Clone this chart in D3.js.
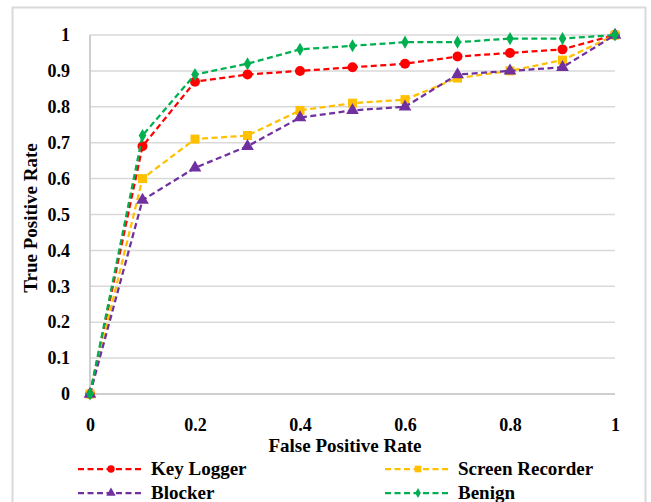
<!DOCTYPE html>
<html>
<head>
<meta charset="utf-8">
<script src="https://cdn.jsdelivr.net/npm/d3@7"></script>
<style>
  body { margin: 0; background: #fff; }
  text { font-family: "Liberation Serif", "Times New Roman", serif; font-weight: bold; fill: #000; }
</style>
</head>
<body>
<svg id="chart" width="651" height="502"></svg>
<script>
const fpr = [0, 0.1, 0.2, 0.3, 0.4, 0.5, 0.6, 0.7, 0.8, 0.9, 1];
const keyLogger = [0, 0.69, 0.87, 0.89, 0.90, 0.91, 0.92, 0.94, 0.95, 0.96, 1.0];
const screenRecorder = [0, 0.60, 0.71, 0.72, 0.79, 0.81, 0.82, 0.88, 0.90, 0.93, 1.0];
const blocker = [0, 0.54, 0.63, 0.69, 0.77, 0.79, 0.80, 0.89, 0.90, 0.91, 1.0];
const benign = [0, 0.72, 0.89, 0.92, 0.96, 0.97, 0.98, 0.98, 0.99, 0.99, 1.0];
const xTicks = [0, 0.2, 0.4, 0.6, 0.8, 1];
const yTicks = [0, 0.1, 0.2, 0.3, 0.4, 0.5, 0.6, 0.7, 0.8, 0.9, 1];

const series = [
  { name: 'Key Logger', values: keyLogger, color: '#FF0000', symbol: d3.symbolCircle, size: 78 },
  { name: 'Screen Recorder', values: screenRecorder, color: '#FFC000', symbol: d3.symbolSquare, size: 81 },
  { name: 'Blocker', values: blocker, color: '#7030A0', symbol: d3.symbolTriangle, size: 70 },
  { name: 'Benign', values: benign, color: '#00B050', symbol: d3.symbolDiamond, size: 50 },
];

const svg = d3.select('#chart');
const serif = '"Liberation Serif", "Times New Roman", serif';

// outer frame
svg.append('rect')
  .attr('x', 12.5).attr('y', 7.5)
  .attr('width', 633).attr('height', 500)
  .attr('fill', 'none')
  .attr('stroke', '#d9d9d9')
  .attr('stroke-width', 2);

const plotLeft = 90;
const plotRight = 615;
const plotTop = 35;
const plotBottom = 394;

const x = d3.scaleLinear().domain([0, 1]).range([plotLeft, plotRight]);
const y = d3.scaleLinear().domain([0, 1]).range([plotBottom, plotTop]);

// gridlines
svg.append('g')
  .selectAll('line')
  .data(yTicks.filter((t) => t > 0))
  .join('line')
  .attr('x1', plotLeft).attr('x2', plotRight)
  .attr('y1', (d) => y(d)).attr('y2', (d) => y(d))
  .attr('stroke', '#d9d9d9')
  .attr('stroke-width', 1.5);

// axis lines
svg.append('line')
  .attr('x1', plotLeft).attr('x2', plotLeft)
  .attr('y1', plotTop).attr('y2', plotBottom)
  .attr('stroke', '#bfbfbf').attr('stroke-width', 1.5);
svg.append('line')
  .attr('x1', plotLeft).attr('x2', plotRight)
  .attr('y1', plotBottom).attr('y2', plotBottom)
  .attr('stroke', '#bfbfbf').attr('stroke-width', 1.5);

const fmt = (d) => String(+d.toFixed(1));

// y tick labels
svg.append('g')
  .attr('transform', `translate(${plotLeft},0)`)
  .call(d3.axisLeft(y).tickValues(yTicks).tickSize(0).tickPadding(20).tickFormat(fmt))
  .attr('font-family', serif)
  .attr('font-size', 18)
  .attr('font-weight', 'bold')
  .call((g) => g.select('.domain').remove())
  .selectAll('text')
  .attr('fill', '#000');

// x tick labels
svg.append('g')
  .attr('transform', `translate(0,${plotBottom})`)
  .call(d3.axisBottom(x).tickValues(xTicks).tickSize(0).tickPadding(24).tickFormat(fmt))
  .attr('font-family', serif)
  .attr('font-size', 18)
  .attr('font-weight', 'bold')
  .call((g) => g.select('.domain').remove())
  .selectAll('text')
  .attr('fill', '#000');

// axis titles
svg.append('text')
  .attr('x', 345)
  .attr('y', 452)
  .attr('text-anchor', 'middle')
  .style('font-size', '19px')
  .text('False Positive Rate');

svg.append('text')
  .attr('transform', 'translate(37,218) rotate(-90)')
  .attr('text-anchor', 'middle')
  .style('font-size', '19px')
  .text('True Positive Rate');

// lines and markers
const line = d3.line()
  .x((d, i) => x(fpr[i]))
  .y((d) => y(d));

series.forEach((s) => {
  const g = svg.append('g');
  g.append('path')
    .datum(s.values)
    .attr('d', line)
    .attr('fill', 'none')
    .attr('stroke', s.color)
    .attr('stroke-width', 2.25)
    .attr('stroke-dasharray', '6,3.5');
  g.selectAll('path.marker')
    .data(s.values)
    .join('path')
    .attr('class', 'marker')
    .attr('transform', (d, i) => `translate(${x(fpr[i])},${y(d)})`)
    .attr('d', d3.symbol().type(s.symbol).size(s.size))
    .attr('fill', s.color);
});

// legend
const legendPos = [
  { x: 78, y: 469 },
  { x: 385, y: 469 },
  { x: 78, y: 493 },
  { x: 385, y: 493 },
];

series.forEach((s, i) => {
  const p = legendPos[i];
  const row = svg.append('g').attr('transform', `translate(${p.x},${p.y})`);
  row.append('line')
    .attr('x1', 0).attr('x2', 65)
    .attr('y1', 0).attr('y2', 0)
    .attr('stroke', s.color)
    .attr('stroke-width', 2.25)
    .attr('stroke-dasharray', '6,3.5');
  row.append('path')
    .attr('transform', 'translate(33,0)')
    .attr('d', d3.symbol().type(s.symbol).size(s.size * 0.55))
    .attr('fill', s.color);
  row.append('text')
    .attr('x', 73)
    .attr('y', 6)
    .style('font-size', '19px')
    .text(s.name);
});
</script>
</body>
</html>
